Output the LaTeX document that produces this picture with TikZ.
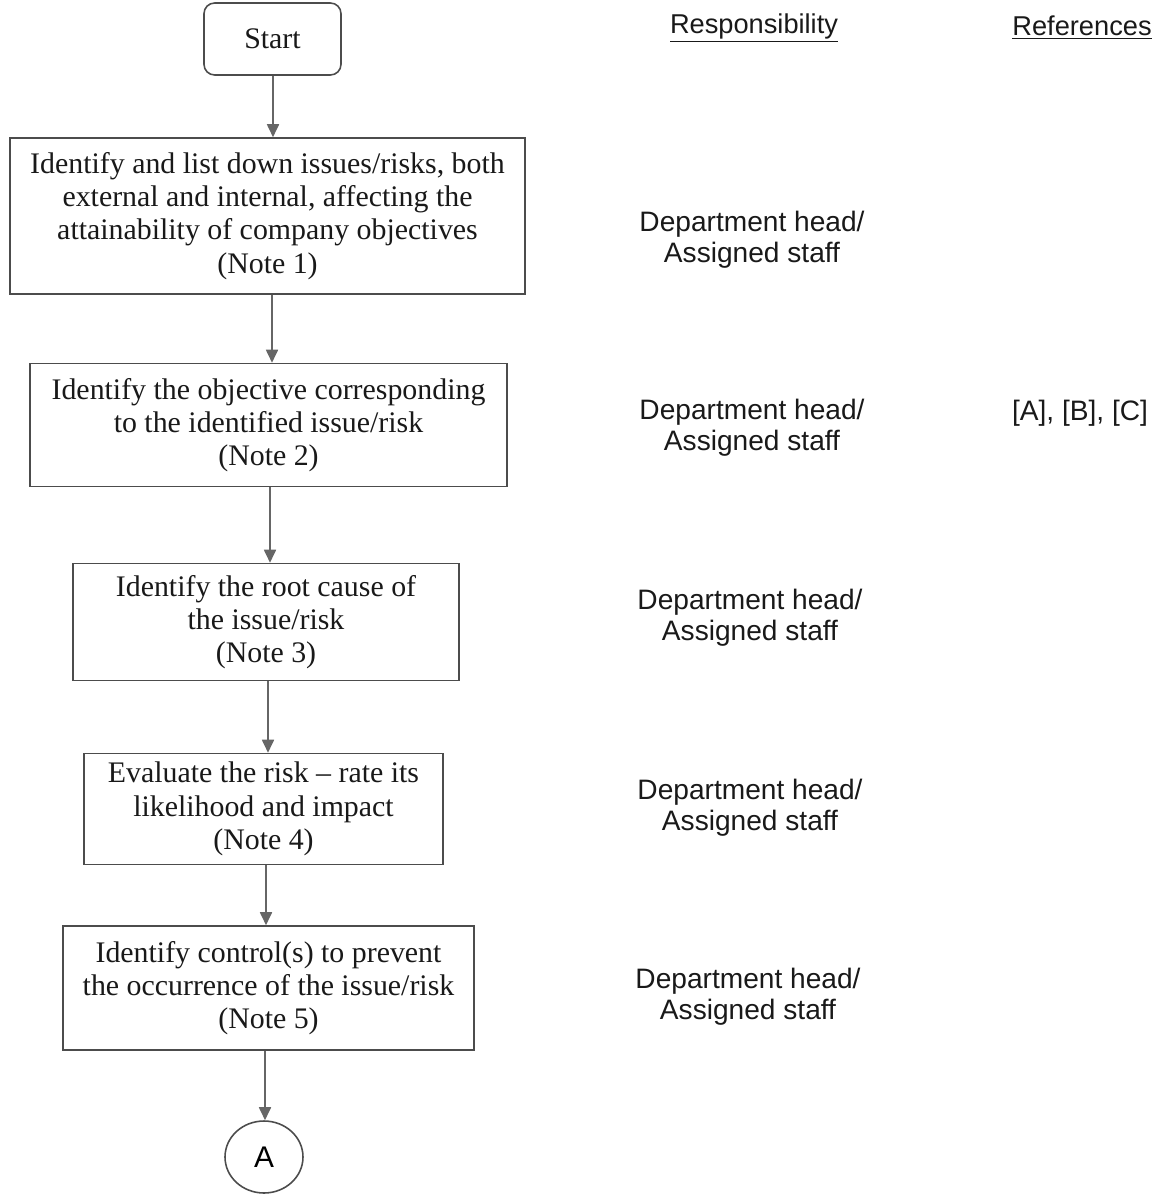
\documentclass[tikz,border=0pt]{standalone}
\usepackage{fontspec}
\setmainfont{Liberation Serif}
\newfontfamily\arialf{Liberation Sans}
\usetikzlibrary{arrows.meta,shapes.geometric}
\begin{document}
\begin{tikzpicture}[x=0.02cm,y=-0.02cm,
  stepbox/.style={draw=black!70,line width=0.9pt,align=center,inner sep=0pt,
    font=\fontsize{17}{18.9}\selectfont,text=black!90},
  startbox/.style={stepbox,rounded corners=6pt},
  conn/.style={draw=black!60,line width=1pt,-{Triangle[width=0.24cm,length=0.26cm]}},
  resp/.style={align=center,font=\arialf\fontsize{16}{17.6}\selectfont,text=black!90},
  head/.style={font=\arialf\fontsize{15.5}{17.6}\selectfont,text=black!90}]
\useasboundingbox (0,0) rectangle (1165,1195);

\node[startbox,minimum width=2.74cm,minimum height=1.44cm] (start) at (272.5,39) {Start};
\node[stepbox,minimum width=10.3cm,minimum height=3.12cm] (b1) at (267.5,216)
  {Identify and list down issues/risks, both\\external and internal, affecting the\\attainability of company objectives\\(Note 1)};
\node[stepbox,minimum width=9.54cm,minimum height=2.46cm] (b2) at (268.5,425)
  {Identify the objective corresponding\\to the identified issue/risk\\(Note 2)};
\node[stepbox,minimum width=7.72cm,minimum height=2.34cm] (b3) at (266,622)
  {Identify the root cause of\\the issue/risk\\(Note 3)};
\node[stepbox,minimum width=7.18cm,minimum height=2.22cm] (b4) at (263.5,809)
  {Evaluate the risk -- rate its\\likelihood and impact\\(Note 4)};
\node[stepbox,minimum width=8.22cm,minimum height=2.48cm] (b5) at (268.5,988)
  {Identify control(s) to prevent\\the occurrence of the issue/risk\\(Note 5)};
\node[draw=black!70,line width=0.9pt,ellipse,inner sep=0pt,minimum width=1.56cm,minimum height=1.44cm,
  font=\arialf\fontsize{17}{20}\selectfont] (A) at (264,1157) {A};

\draw[conn] (start.south -| 273,0) -- (b1.north -| 273,0);
\draw[conn] (b1.south -| 272,0) -- (b2.north -| 272,0);
\draw[conn] (b2.south -| 270,0) -- (b3.north -| 270,0);
\draw[conn] (b3.south -| 268,0) -- (b4.north -| 268,0);
\draw[conn] (b4.south -| 266,0) -- (b5.north -| 266,0);
\draw[conn] (b5.south -| 265,0) -- (A.north -| 265,0);

\node[head] (h1) at (754,28) {\underline{Responsibility}};
\node[head] (h2) at (1082,28) {\underline{References}};

\node[resp] (r1) at (752,240) {Department head/\\Assigned staff};
\node[resp] (r2) at (752,428) {Department head/\\Assigned staff};
\node[resp] (r3) at (750,618) {Department head/\\Assigned staff};
\node[resp] (r4) at (750,808) {Department head/\\Assigned staff};
\node[resp] (r5) at (748,997) {Department head/\\Assigned staff};
\node[resp] (ref) at (1080,413) {[A], [B], [C]};
\end{tikzpicture}
\end{document}
